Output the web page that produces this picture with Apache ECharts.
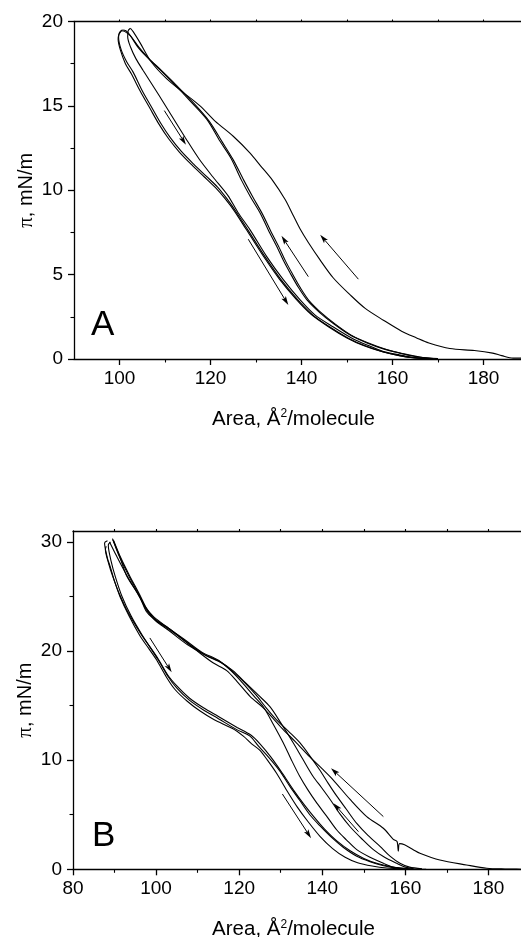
<!DOCTYPE html>
<html>
<head>
<meta charset="utf-8">
<title>Surface pressure–area isotherms</title>
<script src="https://cdn.jsdelivr.net/npm/echarts@6/dist/echarts.min.js"></script>
<style>
  html, body { margin: 0; padding: 0; background: #fff; }
  #chart { width: 521px; height: 937px; }
</style>
</head>
<body>
<div id="chart"></div>
<script>
// ---- Panel A: compression / expansion cycles, [area (Å²/molecule), π (mN/m)] ----
const aCompression1 = [[190,0.02],[188,0.05],[186.5,0.05],[184,0.2],[182,0.35],[178,0.5],[172.6,0.62],[168,0.95],[165.3,1.25],[162,1.65],[158,2.3],[154,3.0],[150.7,3.8],[147,4.8],[144,5.9],[141.5,6.9],[139.7,7.7],[138.1,8.55],[136.4,9.45],[133.6,10.6],[131,11.45],[128.7,12.2],[125,13.2],[121,14.1],[117.7,15.0],[114,15.8],[110.4,16.6],[107,17.6],[104.5,18.75],[103,19.4],[102.4,19.6]];
const aExpansion1 = [[102.4,19.6],[101.9,19.45],[101.8,19.1],[102.4,18.5],[103.6,17.8],[105.2,17.1],[108.5,15.7],[111.5,14.4],[114.5,13.1],[117.5,11.85],[120.5,10.8],[123.8,9.7],[126,8.7],[128.7,7.65],[132.4,6.05],[136,4.7],[139.7,3.5],[143,2.6],[147,1.9],[151,1.25],[154.4,0.83],[158,0.45],[161.6,0.24],[165,0.08],[169,0.0]];
const aCompression2 = [[169,0.03],[165,0.15],[161.6,0.35],[158,0.6],[154.4,0.95],[150.5,1.45],[147,2.1],[144,2.75],[141.2,3.5],[139.3,4.25],[137.5,5.1],[136,5.85],[134.6,6.65],[132.7,7.65],[130.9,8.65],[128.8,9.6],[126.8,10.6],[124.5,11.9],[122.1,12.9],[119.2,14.2],[115.5,15.3],[112,16.3],[108.9,17.15],[106,17.9],[104,18.5],[102.3,19.2],[101.4,19.45],[100.6,19.5]];
const aExpansion2 = [[100.6,19.5],[100.0,19.35],[99.8,19.05],[100.4,18.3],[101.6,17.6],[103,17.0],[105,15.9],[107,14.95],[109,14.0],[111.2,13.1],[113.6,12.3],[116.3,11.55],[119,10.85],[121.5,10.2],[123.6,9.5],[125.7,8.7],[128.2,7.65],[132,6.05],[135.5,4.7],[139.2,3.5],[142.5,2.6],[146.5,1.85],[150.5,1.2],[154,0.78],[158,0.42],[161.6,0.2],[165,0.06],[169,0]];
const aCompression3 = [[170,0.02],[166,0.12],[162.2,0.32],[158.5,0.58],[155,0.92],[151,1.4],[147.5,2.05],[144.5,2.7],[141.7,3.45],[139.8,4.2],[138,5.05],[136.5,5.8],[135.1,6.6],[133.2,7.6],[131.4,8.6],[129.3,9.6],[127.3,10.6],[125,11.8],[122.6,12.85],[119.7,14.1],[116,15.25],[112.4,16.25],[109.2,17.1],[106.3,17.85],[104.2,18.5],[102.4,19.15],[101.2,19.4],[100.4,19.45]];
const aExpansion3 = [[100.4,19.45],[99.9,19.25],[99.7,18.95],[100.2,18.3],[101.3,17.5],[102.6,16.9],[104.6,15.85],[106.6,14.9],[108.6,13.95],[110.8,13.05],[113.2,12.25],[115.9,11.5],[118.6,10.8],[121.1,10.15],[123.2,9.5],[125.3,8.75],[127.8,7.7],[131.6,6.1],[135.1,4.75],[138.8,3.55],[142.1,2.65],[146,1.9],[150,1.25],[153.6,0.8],[157.6,0.44],[161.2,0.21],[164.6,0.07],[168.5,0]];

// ---- Panel B: compression / expansion cycles ----
const bCompression1 = [[190,0],[188,0.01],[184,0.03],[179.6,0.1],[174.7,0.4],[168.3,0.85],[163.5,1.47],[161.9,1.8],[159.8,2.25],[158.6,2.35],[158.3,1.65],[158.0,2.55],[157.1,2.75],[154.7,3.76],[150.7,4.83],[146.7,6.4],[142.6,8.2],[140,9.2],[137,10.3],[133.5,11.7],[130.6,12.8],[128,13.9],[125.8,14.8],[122.6,15.85],[119.5,17.2],[117,18.2],[113.8,18.9],[110.6,19.8],[107.4,20.8],[102.6,22.2],[99.3,23.0],[97.7,23.6],[96,25.0],[92.9,26.9],[91.3,28.6],[89.6,30.2]];
const bCompression2 = [[160,0.05],[157,0.2],[154.7,0.55],[151.5,1.1],[148.3,1.8],[145.8,2.7],[143.5,3.6],[141,4.9],[138.7,6.06],[136.5,7.3],[134.6,8.5],[132.6,10.0],[130.6,11.6],[128.2,13.3],[125.8,14.9],[123.5,15.9],[121,17.0],[118,18.2],[115,19.15],[111,19.9],[107.4,20.9],[103,22.1],[99.5,23.1],[97.5,24.0],[95.5,25.3],[93,26.9],[90.5,28.7],[88.8,30.0]];
const bCompression3 = [[162,0.05],[160,0.2],[157.9,0.55],[155,1.1],[152.3,1.8],[149.5,2.8],[146.7,3.9],[144.2,5.1],[141.9,6.4],[139.8,7.5],[137.8,8.5],[135.3,10.1],[133,11.6],[130.2,13.3],[127.4,14.9],[124.5,16.0],[121.5,17.1],[118.5,18.2],[115.5,19.0],[111.5,19.7],[107.5,20.6],[103,21.9],[99.8,22.8],[97.8,23.7],[95.8,25.2],[93.3,27.0],[91,28.8],[89.5,30.3]];
const bCompression4 = [[164,0.05],[161,0.2],[158.7,0.55],[156.3,1.2],[153.9,2.1],[151,3.1],[148.3,4.2],[145.8,5.5],[143.5,6.7],[141.4,7.9],[139.4,9.1],[137,10.4],[134.6,11.6],[132,12.6],[129,13.7],[126.5,14.8],[124,16.0],[121.6,17.0],[118.8,18.0],[115.8,18.9],[112,19.6],[108,20.6],[103.5,21.9],[100,22.8],[98,23.7],[96,25.2],[93.5,27.0],[91.2,28.8],[89.8,30.1]];
const bExpansion1 = [[88.3,30.1],[87.6,29.9],[88.3,28.5],[88.9,27.8],[90,26.4],[91.3,25.0],[93.5,23.2],[96.1,21.4],[98.3,20.2],[100.1,19.2],[102.5,17.6],[104.5,16.5],[107.5,15.4],[110.6,14.5],[114,13.7],[118.4,12.9],[121,12.2],[123,11.5],[125,10.9],[126.8,10.0],[129,8.8],[131.5,7.2],[134,5.7],[136.5,4.4],[139.5,3.0],[142.5,1.9],[145.5,1.1],[148.5,0.6],[152,0.3],[155.5,0.12],[160,0.03]];
const bExpansion2 = [[89.0,30.0],[88.5,29.7],[89.2,28.2],[90.2,26.8],[91.8,25.0],[94,23.2],[96.6,21.5],[100.5,19.2],[103,17.6],[105,16.6],[108,15.5],[111.4,14.6],[115,13.8],[119.4,12.8],[122.6,12.2],[124.6,11.3],[127,10.3],[129.8,9.0],[132.2,7.6],[134.6,6.3],[137,5.0],[139.4,4.0],[142.3,2.9],[145.1,2.0],[148.3,1.2],[151.5,0.7],[154.5,0.35],[157.1,0.15],[161,0.03]];
const bExpansion3 = [[88.0,29.6],[87.8,29.3],[88.6,28.0],[89.6,26.8],[91.2,25.2],[93.3,23.5],[96.3,21.6],[100.3,19.4],[102.8,17.8],[105,16.8],[108,15.7],[111.4,14.8],[115,14.0],[119.5,13.0],[122.8,12.3],[125,11.5],[127.6,10.3],[130.4,8.8],[133,7.3],[135.5,6.0],[138,4.8],[140.5,3.7],[143.5,2.6],[146.7,1.7],[150,1.0],[153.5,0.5],[157,0.2],[161,0.05],[165,0]];

// Direction arrows: [fromArea, fromPi, toArea, toPi]
const arrowsA = [[109.85,14.72,114.6,12.7],[128.3,7.1,137.1,3.2],[141.5,4.88,135.6,7.3],[152.5,4.73,144.1,7.36]];
const arrowsB = [[98.5,21.2,103.75,18.05],[130.4,6.9,137.3,2.85],[148.7,3.45,142.7,6.06],[154.7,4.83,142.1,9.27]];

// Axis ranges and tick positions
const areaRangeA = [90, 190];
const piRangeA = [0, 20];
const areaLabelsA = [100, 120, 140, 160, 180];
const areaMinorA = [110, 130, 150, 170];
const areaTopA = [100, 110, 120, 130, 140, 150, 160, 170, 180];
const piLabelsA = [0, 5, 10, 15, 20];
const piMinorA = [2.5, 7.5, 12.5, 17.5];

const areaRangeB = [80, 190];
const piRangeB = [0, 31];
const areaLabelsB = [80, 100, 120, 140, 160, 180];
const areaMinorB = [90, 110, 130, 150, 170];
const areaTopB = [90, 100, 110, 120, 130, 140, 150, 160, 170, 180];
const piLabelsB = [0, 10, 20, 30];
const piMinorB = [5, 15, 25];

const panelLetters = ['A', 'B'];

const SANS = 'Liberation Sans, Arial, sans-serif';
const INK = '#000';

const areaTitle = {
  name: '{t|Area, Å}{s|2}{t|/molecule}',
  nameLocation: 'middle',
  nameGap: 49,
  nameTextStyle: {
    padding: [0, 16, 0, 0],
    rich: {
      t: { fontFamily: SANS, fontSize: 20.5, color: INK },
      s: { fontFamily: SANS, fontSize: 12, color: INK, verticalAlign: 'top', padding: [0, 0, 10, 0] }
    }
  }
};
const piTitle = {
  name: '{p|π}{t|, mN/m}',
  nameLocation: 'middle',
  nameGap: 37,
  nameMoveOverlap: false,
  nameRotate: 90,
  nameTextStyle: {
    rich: {
      p: { fontFamily: 'Liberation Serif, serif', fontSize: 21, color: INK },
      t: { fontFamily: SANS, fontSize: 20, color: INK }
    }
  }
};

function mainX(grid, range, labels, extra) {
  return Object.assign({
    gridIndex: grid, type: 'value', position: 'bottom', min: range[0], max: range[1],
    axisLine: { show: true, onZero: false, lineStyle: { color: INK, width: 1.3 } },
    axisTick: { show: true, customValues: labels, length: 6, lineStyle: { color: INK, width: 1.3 } },
    axisLabel: { show: true, customValues: labels, margin: 10, fontFamily: SANS, fontSize: 19, color: INK },
    splitLine: { show: false }
  }, extra || {});
}
function minorX(grid, range, ticks, position, len) {
  return {
    gridIndex: grid, type: 'value', position: position, min: range[0], max: range[1],
    axisLine: { show: position === 'top', onZero: false, lineStyle: { color: INK, width: 1.3 } },
    axisTick: { show: true, customValues: ticks, length: len, lineStyle: { color: INK, width: 1.1 } },
    axisLabel: { show: false },
    splitLine: { show: false }
  };
}
function mainY(grid, range, labels, extra) {
  return Object.assign({
    gridIndex: grid, type: 'value', position: 'left', min: range[0], max: range[1],
    axisLine: { show: true, onZero: false, lineStyle: { color: INK, width: 1.3 } },
    axisTick: { show: true, customValues: labels, length: 6, lineStyle: { color: INK, width: 1.3 } },
    axisLabel: { show: true, customValues: labels, margin: 11, fontFamily: SANS, fontSize: 19, color: INK },
    splitLine: { show: false }
  }, extra || {});
}
function minorY(grid, range, ticks) {
  return {
    gridIndex: grid, type: 'value', position: 'left', min: range[0], max: range[1],
    axisLine: { show: false },
    axisTick: { show: true, customValues: ticks, length: 3.5, lineStyle: { color: INK, width: 1.1 } },
    axisLabel: { show: false },
    splitLine: { show: false }
  };
}

function curve(data, xi, yi) {
  return {
    type: 'line', data: data, xAxisIndex: xi, yAxisIndex: yi,
    showSymbol: false, symbol: 'none', smooth: 0.3, clip: true,
    lineStyle: { color: INK, width: 1.1 }, silent: true
  };
}

// Arrow: shaft from the first point to the second, narrow filled head at the second.
function renderArrow(params, api) {
  const p1 = api.coord([api.value(0), api.value(1)]);
  const p2 = api.coord([api.value(2), api.value(3)]);
  const dx = p2[0] - p1[0], dy = p2[1] - p1[1];
  const len = Math.sqrt(dx * dx + dy * dy) || 1;
  const ux = dx / len, uy = dy / len;
  const headLen = 9, halfW = 2.6;
  const bx = p2[0] - ux * headLen, by = p2[1] - uy * headLen;
  return {
    type: 'group',
    children: [
      { type: 'line', shape: { x1: p1[0], y1: p1[1], x2: bx + ux * 2, y2: by + uy * 2 },
        style: { stroke: INK, lineWidth: 1 } },
      { type: 'polygon', shape: { points: [
          [p2[0], p2[1]],
          [bx - uy * halfW, by + ux * halfW],
          [bx + ux * 2, by + uy * 2],
          [bx + uy * halfW, by - ux * halfW]
        ] }, style: { fill: INK } }
    ]
  };
}
function arrowLayer(arrows, xi, yi) {
  return {
    type: 'custom', data: arrows, xAxisIndex: xi, yAxisIndex: yi, silent: true,
    encode: { x: [0, 2], y: [1, 3] },
    renderItem: renderArrow
  };
}

const chart = echarts.init(document.getElementById('chart'), null, { renderer: 'canvas' });

chart.setOption({
  animation: false,
  backgroundColor: '#fff',
  grid: [
    // fixed plot boxes; titles may sit near the page edge without resizing the plot
    { left: 74, top: 21.5, width: 455, height: 337.5, outerBoundsMode: 'none', containLabel: false },
    { left: 73, top: 531, width: 457, height: 338.3, outerBoundsMode: 'none', containLabel: false }
  ],
  xAxis: [
    mainX(0, areaRangeA, areaLabelsA, areaTitle),
    minorX(0, areaRangeA, areaMinorA, 'bottom', 3.5),
    minorX(0, areaRangeA, areaTopA, 'top', 2),
    mainX(1, areaRangeB, areaLabelsB, areaTitle),
    minorX(1, areaRangeB, areaMinorB, 'bottom', 3.5),
    minorX(1, areaRangeB, areaTopB, 'top', 2)
  ],
  yAxis: [
    mainY(0, piRangeA, piLabelsA, piTitle),
    minorY(0, piRangeA, piMinorA),
    mainY(1, piRangeB, piLabelsB, piTitle),
    minorY(1, piRangeB, piMinorB)
  ],
  series: [
    curve(aCompression1, 0, 0),
    curve(aExpansion1, 0, 0),
    curve(aCompression2, 0, 0),
    curve(aExpansion2, 0, 0),
    curve(aCompression3, 0, 0),
    curve(aExpansion3, 0, 0),
    arrowLayer(arrowsA, 0, 0),
    curve(bCompression1, 3, 2),
    curve(bCompression2, 3, 2),
    curve(bCompression3, 3, 2),
    curve(bCompression4, 3, 2),
    curve(bExpansion1, 3, 2),
    curve(bExpansion2, 3, 2),
    curve(bExpansion3, 3, 2),
    arrowLayer(arrowsB, 3, 2)
  ],
  graphic: [
    { type: 'text', left: 91, top: 308, style: { text: panelLetters[0], font: '35px ' + SANS, fill: INK } },
    { type: 'text', left: 92, top: 819, style: { text: panelLetters[1], font: '35px ' + SANS, fill: INK } }
  ]
});
</script>
</body>
</html>
